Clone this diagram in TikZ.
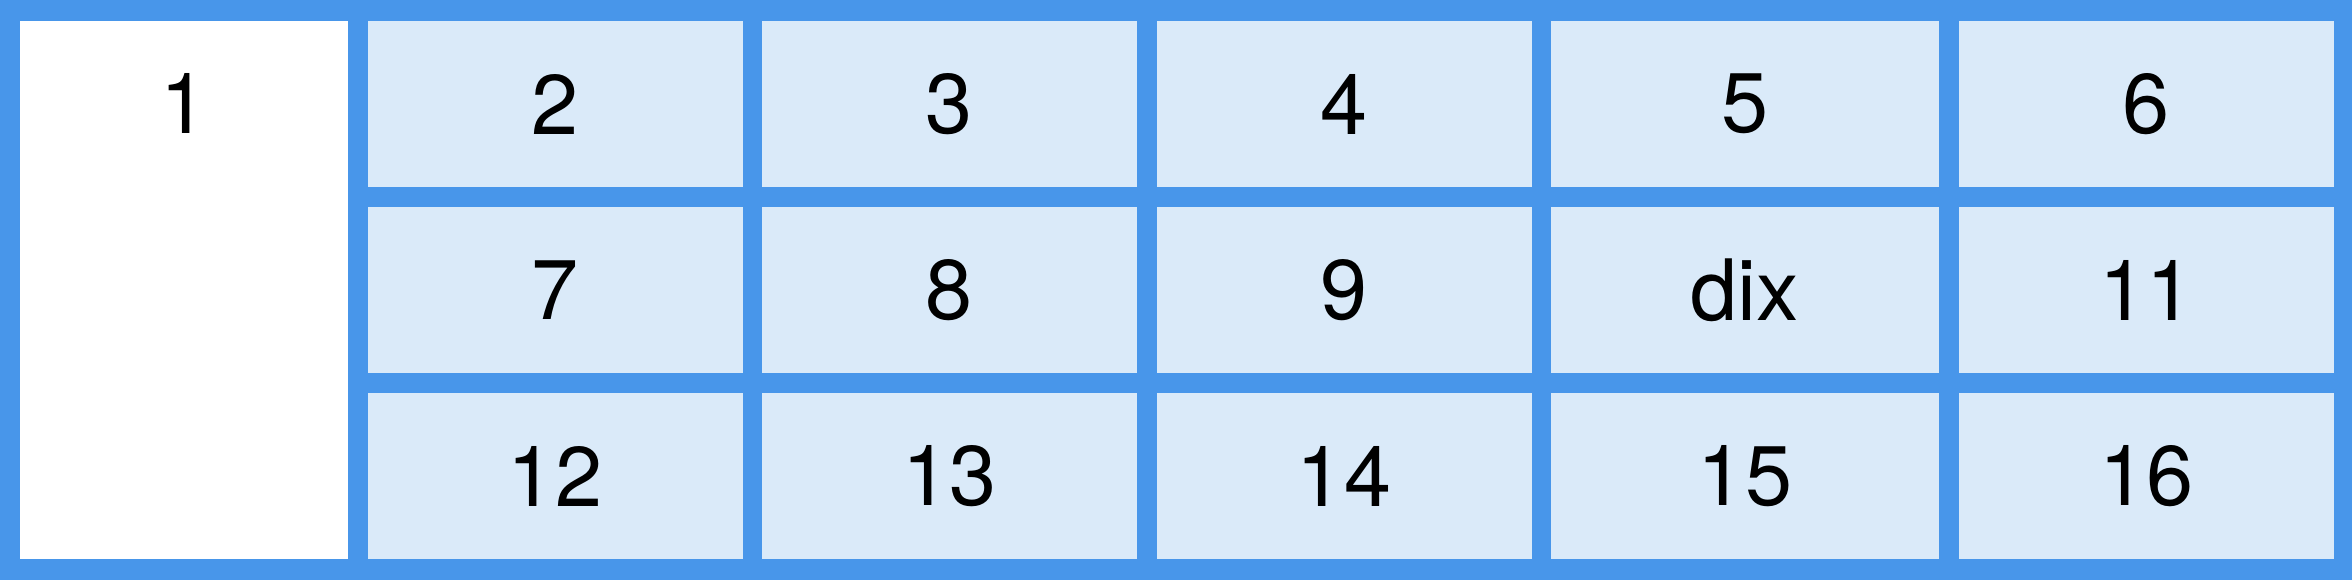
\documentclass[tikz,border=0pt]{standalone}
\usepackage{fontspec}
\setmainfont{TeX Gyre Heros}

\definecolor{gridblue}{RGB}{72,150,234}
\definecolor{cellblue}{RGB}{218,234,249}

\tikzset{every picture/.style={line width=0.75pt}}
\tikzset{
  cell/.style={fill=cellblue, draw=none, inner sep=0pt, minimum width=281.25pt, minimum height=124.5pt, font=\fontsize{63.5}{75}\selectfont},
  widecell/.style={cell, minimum width=291pt},
  cellnum/.style={inner sep=0pt, font=\fontsize{63.5}{75}\selectfont}
}

\begin{document}
\begin{tikzpicture}[x=0.75pt,y=0.75pt,yscale=-1,xscale=1]
%set diagram: 2352 wide, 580 high

%Shape: Rectangle (grid background)
\fill [gridblue] (0,0) rectangle (2352,580) ;
\useasboundingbox (0,0) rectangle (2352,580) ;

%Shape: Rectangle (tall first cell)
\node [cell, fill=white, minimum width=246pt, minimum height=403.5pt] (c1) at (184,290) {};
% Text Node
\node [cellnum] (t1) at (184,103) {1};

%Row 1
\node [cell] (c2) at (555,104) {2};
\node [cell] (c3) at (949.5,104) {3};
\node [cell] (c4) at (1344,104) {4};
\node [widecell] (c5) at (1745,104) {5};
\node [cell] (c6) at (2146.5,104) {6};

%Row 2
\node [cell] (c7) at (555,290) {7};
\node [cell] (c8) at (949.5,290) {8};
\node [cell] (c9) at (1344,290) {9};
\node [widecell] (c10) at (1745,290) {dix};
\node [cell] (c11) at (2146.5,290) {11};

%Row 3
\node [cell] (c12) at (555,476) {12};
\node [cell] (c13) at (949.5,476) {13};
\node [cell] (c14) at (1344,476) {14};
\node [widecell] (c15) at (1745,476) {15};
\node [cell] (c16) at (2146.5,476) {16};

\end{tikzpicture}
\end{document}
